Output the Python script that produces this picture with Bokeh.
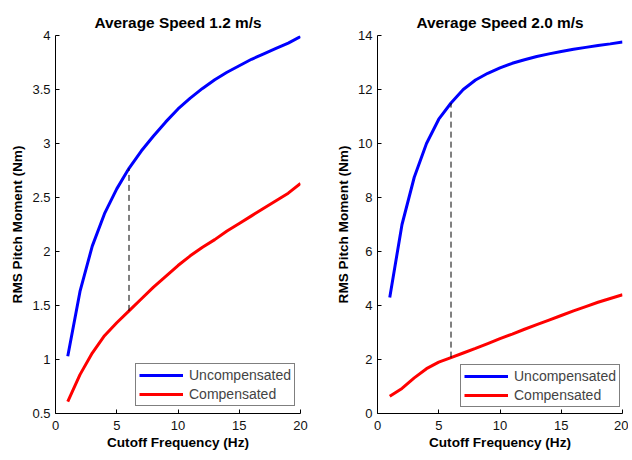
from bokeh.plotting import figure
from bokeh.layouts import row
from bokeh.models import FixedTicker, Legend, LegendItem
from bokeh.embed import file_html
from bokeh.resources import INLINE

freq = list(range(1, 21))
unc_12 = [1.03, 1.63, 2.05, 2.35, 2.58, 2.77, 2.93, 3.07, 3.20, 3.32,
          3.42, 3.51, 3.59, 3.66, 3.72, 3.78, 3.83, 3.88, 3.93, 3.99]
comp_12 = [0.61, 0.86, 1.06, 1.22, 1.34, 1.45, 1.56, 1.67, 1.77, 1.87,
           1.96, 2.04, 2.11, 2.19, 2.26, 2.33, 2.40, 2.47, 2.54, 2.63]
unc_20 = [4.3, 7.0, 8.75, 10.0, 10.9, 11.5, 12.0, 12.35, 12.6, 12.8,
          12.97, 13.1, 13.22, 13.32, 13.41, 13.49, 13.56, 13.63, 13.69, 13.76]
comp_20 = [0.64, 0.93, 1.32, 1.66, 1.90, 2.07, 2.24, 2.41, 2.59, 2.77,
           2.94, 3.12, 3.29, 3.46, 3.63, 3.80, 3.96, 4.12, 4.26, 4.40]
cutoff = 6
x_ticks = [0, 5, 10, 15, 20]
y_ticks_12 = [0.5, 1, 1.5, 2, 2.5, 3, 3.5, 4]
y_ticks_20 = [0, 2, 4, 6, 8, 10, 12, 14]
titles = ["Average Speed 1.2 m/s", "Average Speed 2.0 m/s"]
series_names = ["Uncompensated", "Compensated"]

FONT = "Liberation Sans"


def fmt(v):
    return ("%g" % v)


def make(title, unc, comp, yr, yticks, bl, br, legend_x, legend_y):
    p = figure(frame_width=245, frame_height=378, x_range=(0, 20), y_range=yr,
               output_backend="svg", toolbar_location=None,
               min_border_left=bl, min_border_right=br, min_border_top=35,
               min_border_bottom=31)
    p.title.text = title
    p.title.align = "center"
    p.title.text_font = FONT
    p.title.text_font_size = "15.4px"
    p.title.text_font_style = "bold"
    p.title.text_color = "black"
    p.outline_line_color = None
    p.xgrid.visible = False
    p.ygrid.visible = False
    p.background_fill_color = "white"
    p.border_fill_color = "white"

    for ax, ticks in ((p.xaxis[0], x_ticks), (p.yaxis[0], yticks)):
        ax.ticker = FixedTicker(ticks=ticks)
        ax.major_label_overrides = {t: fmt(t) for t in ticks}
        ax.minor_tick_line_color = None
        ax.major_tick_in = 4
        ax.major_tick_out = 0
        ax.axis_line_color = "black"
        ax.major_tick_line_color = "black"
        ax.major_label_text_font = FONT
        ax.major_label_text_font_size = "13px"
        ax.major_label_text_color = "#111111"
        ax.axis_label_text_font = FONT
        ax.axis_label_text_font_size = "13.6px"
        ax.axis_label_text_font_style = "bold"
        ax.axis_label_text_color = "black"
    p.xaxis.axis_label = "Cutoff Frequency (Hz)"
    p.yaxis.axis_label = "RMS Pitch Moment (Nm)"
    p.xaxis.major_label_standoff = 7
    p.xaxis.axis_label_standoff = 2
    p.yaxis.major_label_standoff = 5
    p.yaxis.axis_label_standoff = 4

    r1 = p.line(freq, unc, line_color="#0000ff", line_width=3)
    r2 = p.line(freq, comp, line_color="#ff0000", line_width=3)
    i = freq.index(cutoff)
    p.line([cutoff, cutoff], [comp[i], unc[i]], line_color="black",
           line_width=1, line_dash="6 4")

    leg = Legend(items=[LegendItem(label=series_names[0], renderers=[r1]),
                        LegendItem(label=series_names[1], renderers=[r2])],
                 location=(legend_x, legend_y))
    leg.border_line_color = "black"
    leg.border_line_width = 1
    leg.background_fill_alpha = 1
    leg.label_text_font = FONT
    leg.label_text_font_size = "14px"
    leg.glyph_width = 44
    leg.glyph_height = 14
    leg.label_height = 14
    leg.spacing = 3
    leg.padding = 3
    leg.margin = 0
    leg.label_standoff = 6
    p.add_layout(leg, "center")
    return p


p1 = make(titles[0], unc_12, comp_12, (0.5, 4), y_ticks_12, 55, 16, 80, 7)
p2 = make(titles[1], unc_20, comp_20, (0, 14), y_ticks_20, 61, 6, 83, 6)
layout = row(p1, p2, spacing=0)

open("out.html", "w").write(file_html(layout, INLINE))
